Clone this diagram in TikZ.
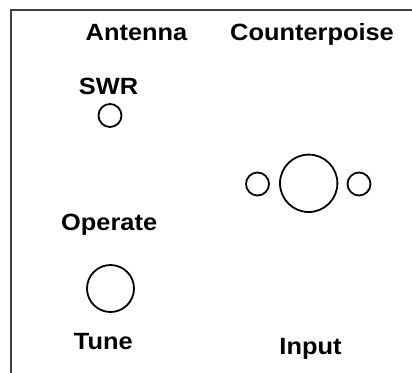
\documentclass[tikz,border=0pt]{standalone}
\usepackage{fontspec}
\setmainfont{Liberation Sans}[FakeStretch=1.08]
\begin{document}
\begin{tikzpicture}[x=1pt,y=-1pt,
  lbl/.style={font=\bfseries\fontsize{23.5}{28}\selectfont, anchor=base, inner sep=0pt},
  knob/.style={draw, circle, line width=1.8pt, inner sep=0pt}]
\useasboundingbox (0,0) rectangle (412,372);
\coordinate (fb) at (11,380);
\coordinate (fc) at (11,10);
\coordinate (fr) at (420,10);
\draw[line width=2pt, black!75] (fb) -- (fc) -- (fr);
\node[lbl] (antenna) at (136.5,40.5) {Antenna};
\node[lbl] (counter) at (312,40.5) {Counterpoise};
\node[lbl] (swr) at (108.5,94.3) {SWR};
\node[lbl] (operate) at (109.2,230.5) {Operate};
\node[lbl] (tune) at (103.3,349) {Tune};
\node[lbl] (input) at (310.5,354) {Input};
\node[knob, minimum size=23pt] (swrk) at (110,115.5) {};
\node[knob, minimum size=23pt] (inl) at (257.5,184) {};
\node[knob, minimum size=57.4pt] (inc) at (308.7,183.3) {};
\node[knob, minimum size=23pt] (inr) at (359,184) {};
\node[knob, minimum size=47pt] (tunek) at (110.5,288.5) {};
\end{tikzpicture}
\end{document}
